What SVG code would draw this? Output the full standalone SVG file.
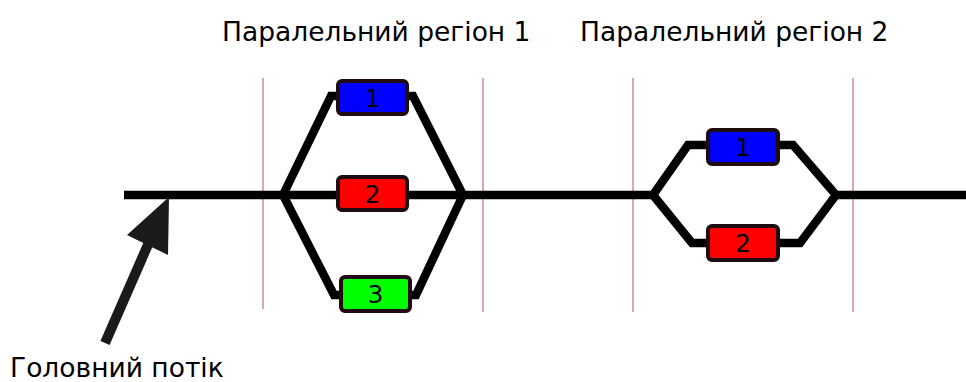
<svg xmlns="http://www.w3.org/2000/svg" width="966" height="382" viewBox="0 0 966 382">
<style>
.sep{stroke:#c06a8a;stroke-width:1.2;fill:none}
.flow{stroke:#000;stroke-width:8.5;fill:none;stroke-linejoin:miter}
.box rect{stroke:#1e0c10;stroke-width:4}
.box text,.lbl{font-family:"DejaVu Sans",Verdana,sans-serif;fill:#000}
.box text{font-size:25px;text-anchor:middle}
.lbl{font-size:26.5px}
</style>
<rect width="966" height="382" fill="#fff"/>
<g id="separators">
<line class="sep" x1="263" y1="78" x2="263" y2="309"/>
<line class="sep" x1="483" y1="78" x2="483" y2="312"/>
<line class="sep" x1="633" y1="78" x2="633" y2="312"/>
<line class="sep" x1="853" y1="78" x2="853" y2="312"/>
</g>
<g id="connectors">
<path class="flow" d="M124 195 H653"/>
<path class="flow" d="M836 195 H966"/>
<path class="flow" d="M283 195 L331 96 H340 M405 96 H413 L463 195"/>
<path class="flow" d="M283 195 L334 295 H343 M408 295 H416 L463 195"/>
<path class="flow" d="M653 195 L688 145 H710 M776 145 H793 L836 195"/>
<path class="flow" d="M653 195 L692 243 H710 M776 243 H800 L836 195"/>
<path d="M105 343 L150 240" stroke="#1a1a1a" stroke-width="10" fill="none"/>
<polygon points="169,197 127,235 168,255" fill="#1a1a1a"/>
</g>
<g id="r1-t1" class="box"><rect x="338" y="81" width="69" height="33" rx="4" fill="#0000ff"/><text x="372.5" y="107">1</text></g>
<g id="r1-t2" class="box"><rect x="338" y="177" width="69" height="33" rx="4" fill="#ff0000"/><text x="372.5" y="203">2</text></g>
<g id="r1-t3" class="box"><rect x="341" y="277" width="69" height="34" rx="4" fill="#00ff00"/><text x="375.5" y="303">3</text></g>
<g id="r2-t1" class="box"><rect x="708" y="130" width="70" height="34" rx="4" fill="#0000ff"/><text x="743" y="156">1</text></g>
<g id="r2-t2" class="box"><rect x="708" y="226" width="70" height="34" rx="4" fill="#ff0000"/><text x="743" y="252">2</text></g>
<g id="labels">
<text class="lbl" x="222" y="41">Паралельний регіон 1</text>
<text class="lbl" x="580" y="41">Паралельний регіон 2</text>
<text class="lbl" x="10" y="377">Головний потік</text>
</g>
</svg>
